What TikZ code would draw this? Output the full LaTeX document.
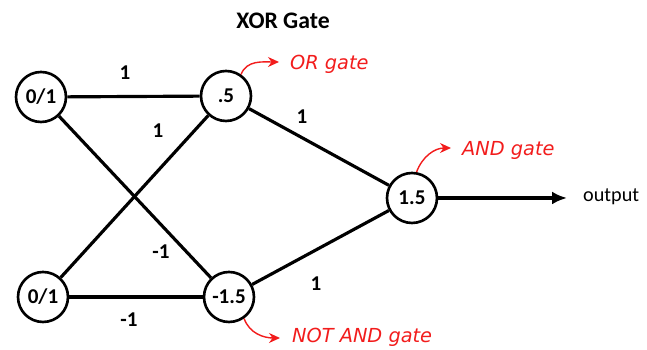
\documentclass[tikz,border=0pt]{standalone}
\usepackage{fontspec}
\setmainfont{Carlito}
\newfontfamily\notefont{DejaVu Sans}
\usepackage{xcolor}
\definecolor{notered}{HTML}{F21C1C}
\usetikzlibrary{arrows.meta}

\begin{document}
\begin{tikzpicture}[x=0.02cm,y=-0.02cm,
  neuron/.style={circle,draw,line width=1.5pt,minimum size=1cm,inner sep=0pt,
    font=\fontsize{12}{14}\selectfont\bfseries},
  wire/.style={line width=1.8pt},
  weight/.style={font=\fontsize{12}{14}\selectfont\bfseries},
  note/.style={text=notered,font=\notefont\itshape\fontsize{11}{13}\selectfont,anchor=west},
  notearr/.style={-{Stealth[length=2.2mm,width=2mm]},notered,line width=0.8pt}]
  \useasboundingbox (0,0) rectangle (647,350);

  % title
  \node[font=\fontsize{13.5}{16}\selectfont\bfseries] (title) at (283,21) {XOR Gate};

  % neurons
  \node[neuron] (x1) at (41,97) {0/1};
  \node[neuron] (x2) at (43,297) {0/1};
  \node[neuron] (h1) at (226,96) {.5};
  \node[neuron] (h2) at (229,297) {-1.5};
  \node[neuron] (y) at (412,198) {1.5};
  \coordinate (end) at (567,198);
  \node[anchor=west,font=\fontsize{11.5}{14}\selectfont] (outlbl) at (577,197) {output};

  % weights
  \draw[wire] (x1) -- (h1);
  \draw[wire] (x1) -- (h2);
  \draw[wire] (x2) -- (h1);
  \draw[wire] (x2) -- (h2);
  \draw[wire] (h1) -- (y);
  \draw[wire] (h2) -- (y);
  \draw[wire,-{Latex[length=3mm,width=2.6mm]}] (y) -- (end);

  \node[weight] (w11) at (125,73) {1};
  \node[weight] (w21) at (158,131) {1};
  \node[weight] (w12) at (161,252) {-1};
  \node[weight] (w22) at (129,320) {-1};
  \node[weight] (v1) at (302,117) {1};
  \node[weight] (v2) at (316,284) {1};

  % gate notes
  \node[note] (orlbl) at (284,64) {OR gate};
  \node[note] (andlbl) at (456,150) {AND gate};
  \node[note] (nandlbl) at (286,337) {NOT AND gate};
  \coordinate (ortip) at (279,62);
  \coordinate (andtip) at (451,148);
  \coordinate (nandtip) at (280,338);
  \draw[notearr] (h1.55) to[out=70,in=180] (ortip);
  \draw[notearr] (y.80) to[out=70,in=180] (andtip);
  \draw[notearr] (h2.-55) to[out=-70,in=180] (nandtip);
\end{tikzpicture}
\end{document}
